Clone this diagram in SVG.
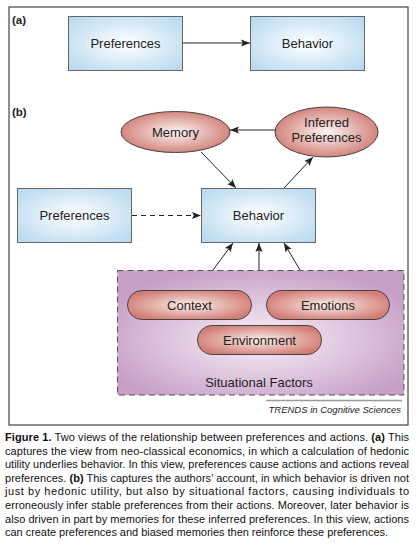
<svg xmlns="http://www.w3.org/2000/svg" width="418" height="547" viewBox="0 0 418 547">
<defs>
<radialGradient id="gBlue" cx="50%" cy="50%" r="65%">
<stop offset="0" stop-color="#ffffff"/>
<stop offset="1" stop-color="#b9daf0"/>
</radialGradient>
<radialGradient id="gRed" cx="50%" cy="50%" r="55%">
<stop offset="0" stop-color="#fcf5f4"/>
<stop offset="1" stop-color="#d07a73"/>
</radialGradient>
<radialGradient id="gPill" cx="50%" cy="50%" r="55%">
<stop offset="0" stop-color="#faeeec"/>
<stop offset="1" stop-color="#d27d75"/>
</radialGradient>
<radialGradient id="gPurple" cx="50%" cy="55%" r="60%">
<stop offset="0" stop-color="#f9f1f8"/>
<stop offset="1" stop-color="#c69ec6"/>
</radialGradient>
<marker id="ah" viewBox="0 0 10 10" refX="10" refY="5" markerWidth="9" markerHeight="9" markerUnits="userSpaceOnUse" orient="auto">
<path d="M0,1 L10,5 L0,9 L2,5 Z" fill="#222"/>
</marker>
<style>
.box{fill:url(#gBlue);stroke:#666;stroke-width:1}
.ell{fill:url(#gRed);stroke:#444;stroke-width:1}
.pill{fill:url(#gPill);stroke:#444;stroke-width:1}
.lbl{font-family:"Liberation Sans",Arial,sans-serif;font-size:13px;fill:#222;text-anchor:middle}
.pl{font-family:"Liberation Sans",Arial,sans-serif;font-size:11.5px;font-weight:bold;fill:#222}
.cn{stroke:#222;stroke-width:1;fill:none;marker-end:url(#ah)}
.cap{font-family:"Liberation Sans",Arial,sans-serif;font-size:11px;fill:#111}
.b{font-weight:bold}
</style>
</defs>
<rect x="0" y="0" width="418" height="547" fill="#fff"/>
<rect x="9" y="7" width="399" height="418" fill="none" stroke="#444" stroke-width="1.2"/>
<text class="pl" x="12" y="24">(a)</text>
<text class="pl" x="12" y="116">(b)</text>

<g id="sit-factors">
<rect x="117.5" y="270.5" width="286.5" height="124.5" fill="url(#gPurple)" stroke="#555" stroke-width="1" stroke-dasharray="6,4"/>
<text class="lbl" x="259" y="387">Situational Factors</text>
</g>

<g id="a-preferences">
<rect class="box" x="68.5" y="16.5" width="114" height="54"/>
<text class="lbl" x="125.5" y="48">Preferences</text>
</g>
<g id="a-behavior">
<rect class="box" x="250.5" y="16.5" width="114" height="54"/>
<text class="lbl" x="307.5" y="48">Behavior</text>
</g>

<g id="memory">
<ellipse class="ell" cx="175.5" cy="132" rx="54.5" ry="20.5"/>
<text class="lbl" x="175.5" y="136.5">Memory</text>
</g>
<g id="inferred">
<ellipse class="ell" cx="326.5" cy="132" rx="51.5" ry="25"/>
<text class="lbl" x="326.5" y="126.5">Inferred</text>
<text class="lbl" x="326.5" y="141.5">Preferences</text>
</g>
<g id="b-preferences">
<rect class="box" x="17.5" y="188.5" width="114" height="54"/>
<text class="lbl" x="74.5" y="220">Preferences</text>
</g>
<g id="b-behavior">
<rect class="box" x="201.5" y="188.5" width="114" height="54"/>
<text class="lbl" x="258.5" y="220">Behavior</text>
</g>

<g id="context">
<rect class="pill" x="127.5" y="290.5" width="124" height="29" rx="14.5"/>
<text class="lbl" x="189.5" y="309.5">Context</text>
</g>
<g id="emotions">
<rect class="pill" x="266.5" y="290.5" width="123" height="29" rx="14.5"/>
<text class="lbl" x="328" y="309.5">Emotions</text>
</g>
<g id="environment">
<rect class="pill" x="197.5" y="325.5" width="124" height="29" rx="14.5"/>
<text class="lbl" x="259.5" y="344.5">Environment</text>
</g>

<g id="connectors">
<line class="cn" x1="182.5" y1="43" x2="250" y2="43"/>
<line class="cn" x1="275" y1="130" x2="230" y2="130"/>
<line class="cn" x1="201" y1="152" x2="236" y2="188"/>
<line class="cn" x1="284" y1="188" x2="313" y2="157"/>
<line class="cn" x1="132" y1="215.5" x2="201" y2="215.5" stroke-dasharray="5,4"/>
<line class="cn" x1="213" y1="270" x2="233" y2="243"/>
<line class="cn" x1="259" y1="270" x2="259" y2="243"/>
<line class="cn" x1="300" y1="270" x2="284" y2="243"/>
</g>

<line x1="266" y1="400.5" x2="402" y2="400.5" stroke="#999" stroke-width="1.5"/>
<text x="401" y="412.5" font-family="Liberation Sans,Arial,sans-serif" font-size="9.5" font-style="italic" fill="#222" text-anchor="end">TRENDS in Cognitive Sciences</text>

<g id="caption">
<text class="cap" x="5" y="441" textLength="404" lengthAdjust="spacing"><tspan class="b">Figure 1.</tspan> Two views of the relationship between preferences and actions. <tspan class="b">(a)</tspan> This</text>
<text class="cap" x="5" y="454.6" textLength="404" lengthAdjust="spacing">captures the view from neo-classical economics, in which a calculation of hedonic</text>
<text class="cap" x="5" y="468.2" textLength="404" lengthAdjust="spacing">utility underlies behavior. In this view, preferences cause actions and actions reveal</text>
<text class="cap" x="5" y="481.8" textLength="404" lengthAdjust="spacing">preferences. <tspan class="b">(b)</tspan> This captures the authors’ account, in which behavior is driven not</text>
<text class="cap" x="5" y="495.4" textLength="404" lengthAdjust="spacing">just by hedonic utility, but also by situational factors, causing individuals to</text>
<text class="cap" x="5" y="509" textLength="404" lengthAdjust="spacing">erroneously infer stable preferences from their actions. Moreover, later behavior is</text>
<text class="cap" x="5" y="522.6" textLength="404" lengthAdjust="spacing">also driven in part by memories for these inferred preferences. In this view, actions</text>
<text class="cap" x="5" y="536.2" textLength="383" lengthAdjust="spacing">can create preferences and biased memories then reinforce these preferences.</text>
</g>
</svg>
